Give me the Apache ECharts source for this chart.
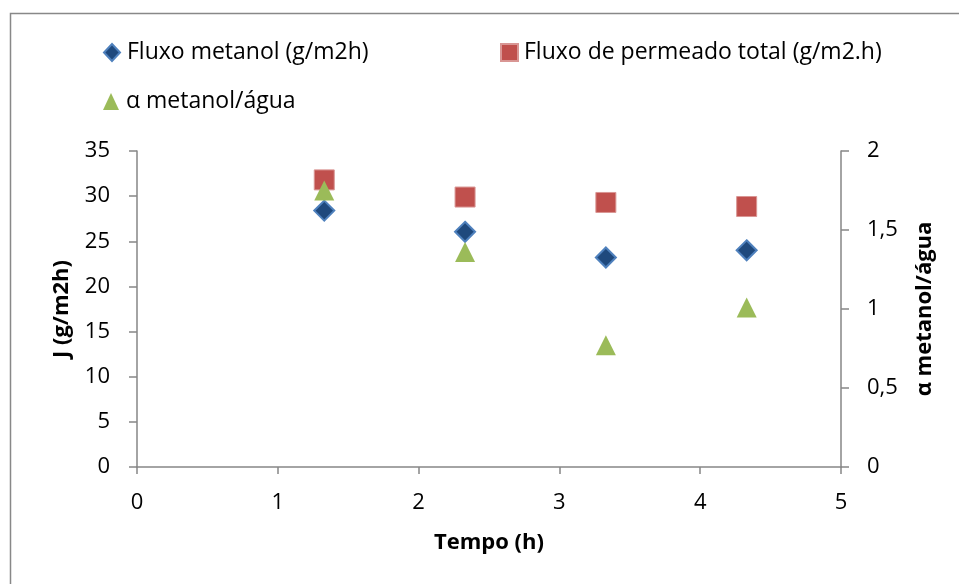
<!DOCTYPE html>
<html>
<head>
<meta charset="utf-8">
<script src="https://cdn.jsdelivr.net/npm/echarts@6/dist/echarts.min.js"></script>
<style>
html,body{margin:0;padding:0;background:#fff;}
#chart{width:959px;height:584px;}
</style>
</head>
<body>
<div id="chart"></div>
<script>
var tempo = [1.33, 2.33, 3.33, 4.33];
var fluxoMetanol = [28.4, 26.05, 23.2, 24.0];
var fluxoTotal = [31.8, 29.9, 29.3, 28.85];
var alfa = [1.75, 1.36, 0.77, 1.01];
var seriesNames = ['Fluxo metanol (g/m2h)', 'Fluxo de permeado total (g/m2.h)', 'α metanol/água'];

function pairs(xs, ys){ return xs.map(function(x,i){ return [x, ys[i]]; }); }

var FONT = 'Open Sans';
var chart = echarts.init(document.getElementById('chart'));
function legendText(padLeft){ return {fontFamily: FONT, fontSize: 23, color: '#000', padding: [0,0,0,padLeft]}; }
var titleStyle = {fontFamily: FONT, fontSize: 22, fontWeight: 'bold', color: '#000'};
var tickStyle = {fontFamily: FONT, fontSize: 22, color: '#000'};
chart.setOption({
  animation: false,
  backgroundColor: '#fff',
  graphic: [{
    type: 'rect', shape: {x: 10.5, y: 13.5, width: 1000, height: 600},
    style: {fill: 'none', stroke: '#888', lineWidth: 1.5}, silent: true, z: -10
  }],
  legend: [
    {data: [{name: seriesNames[0], icon: 'diamond'}], left: 103, top: 41, padding: 0, itemWidth: 16, itemHeight: 17, textStyle: legendText(2)},
    {data: [{name: seriesNames[1], icon: 'rect'}], left: 500, top: 41, padding: 0, itemWidth: 17, itemHeight: 17, textStyle: legendText(1)},
    {data: [{name: seriesNames[2], icon: 'triangle'}], left: 103, top: 90, padding: 0, itemWidth: 16, itemHeight: 17, textStyle: legendText(2)}
  ],
  grid: {left: 137, right: 118, top: 151, bottom: 117, containLabel: false},
  xAxis: {
    type: 'value', min: 0, max: 5, interval: 1,
    name: 'Tempo (h)', nameLocation: 'middle', nameGap: 65,
    nameTextStyle: titleStyle,
    axisLine: {show: true, lineStyle: {color: '#868686', width: 1.5}},
    axisTick: {show: true, length: 7, lineStyle: {color: '#868686', width: 1.5}},
    axisLabel: Object.assign({margin: 25}, tickStyle),
    splitLine: {show: false}
  },
  yAxis: [{
    type: 'value', min: 0, max: 35, interval: 5, position: 'left',
    name: 'J (g/m2h)', nameLocation: 'middle', nameGap: 64, nameRotate: 90,
    nameTextStyle: titleStyle,
    axisLine: {show: true, lineStyle: {color: '#868686', width: 1.5}},
    axisTick: {show: true, length: 8, lineStyle: {color: '#868686', width: 1.5}},
    axisLabel: Object.assign({margin: 27}, tickStyle),
    splitLine: {show: false}
  }, {
    type: 'value', min: 0, max: 2, interval: 0.5, position: 'right',
    name: 'α metanol/água', nameLocation: 'middle', nameGap: 73, nameRotate: 90,
    nameTextStyle: titleStyle,
    axisLine: {show: true, lineStyle: {color: '#868686', width: 1.5}},
    axisTick: {show: true, length: 8, lineStyle: {color: '#868686', width: 1.5}},
    axisLabel: Object.assign({margin: 26,
      formatter: function(v){ return String(v).replace('.', ','); }}, tickStyle),
    splitLine: {show: false}
  }],
  series: [{
    name: seriesNames[0], type: 'scatter', yAxisIndex: 0, symbol: 'diamond', symbolSize: 20,
    itemStyle: {color: '#1F497D', borderColor: '#4F81BD', borderWidth: 2, opacity: 1},
    data: pairs(tempo, fluxoMetanol), z: 3
  }, {
    name: seriesNames[1], type: 'scatter', yAxisIndex: 0, symbol: 'rect', symbolSize: 20,
    itemStyle: {color: '#C0504D', borderColor: '#D99694', borderWidth: 1, opacity: 1},
    data: pairs(tempo, fluxoTotal), z: 2
  }, {
    name: seriesNames[2], type: 'scatter', yAxisIndex: 1, symbol: 'triangle', symbolSize: 20,
    itemStyle: {color: '#9BBB59', opacity: 1},
    data: pairs(tempo, alfa), z: 4
  }]
});
</script>
</body>
</html>
